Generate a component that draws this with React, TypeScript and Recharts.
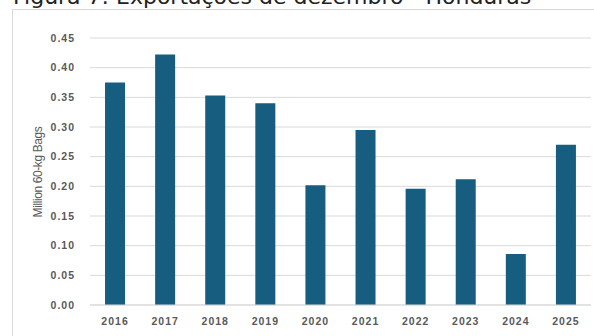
import { BarChart, Bar, XAxis, YAxis, CartesianGrid } from 'recharts'

// December exports, Honduras (million 60-kg bags)
const years = ['2016', '2017', '2018', '2019', '2020', '2021', '2022', '2023', '2024', '2025']
const exportsMillionBags = [0.375, 0.422, 0.353, 0.340, 0.202, 0.295, 0.196, 0.212, 0.086, 0.270]
const yTicks = [0, 0.05, 0.1, 0.15, 0.2, 0.25, 0.3, 0.35, 0.4, 0.45]

const chartData = years.map((year, i) => ({ year, value: exportsMillionBags[i] }))

const tickStyle = { fill: '#595959', fontSize: 10.5, fontWeight: 700, fontFamily: 'Liberation Sans', letterSpacing: 1 }

export default function App() {
  return (
    <div style={{ position: 'absolute', left: 0, top: 0, width: 594, height: 336, overflow: 'hidden', background: '#fff' }}>
      <div
        style={{
          position: 'absolute', left: 13, top: -14, lineHeight: '22px', fontSize: 22,
          fontFamily: 'DejaVu Sans', color: '#222', whiteSpace: 'nowrap',
        }}
      >
        Figura 7: Exportações de dezembro - Honduras
      </div>
      <div style={{ position: 'absolute', left: 12, top: 9, width: 620, height: 400, border: '1px solid #d9d9d9' }} />
      <div
        style={{
          position: 'absolute', left: 38, top: 172, transform: 'translate(-50%, -50%) rotate(-90deg)',
          fontFamily: 'Liberation Sans', fontSize: 12, letterSpacing: -0.4, color: '#595959', whiteSpace: 'nowrap',
        }}
      >
        Million 60-kg Bags
      </div>
      <div style={{ position: 'absolute', left: 0, top: 0 }}>
        <BarChart width={594} height={336} data={chartData} margin={{ top: 38, right: 3, bottom: 0, left: 0 }} barCategoryGap="30%">
          <CartesianGrid horizontal={true} vertical={false} stroke="#d9d9d9" />
          <XAxis
            dataKey="year"
            axisLine={{ stroke: '#d9d9d9' }}
            tickLine={false}
            tickMargin={7}
            height={31}
            tick={tickStyle}
            interval={0}
          />
          <YAxis
            domain={[0, 0.45]}
            ticks={yTicks}
            axisLine={false}
            tickLine={false}
            tickMargin={9}
            width={90}
            tick={tickStyle}
            tickFormatter={(v: number) => v.toFixed(2)}
          />
          <Bar dataKey="value" fill="#165d80" isAnimationActive={false} />
        </BarChart>
      </div>
    </div>
  )
}
